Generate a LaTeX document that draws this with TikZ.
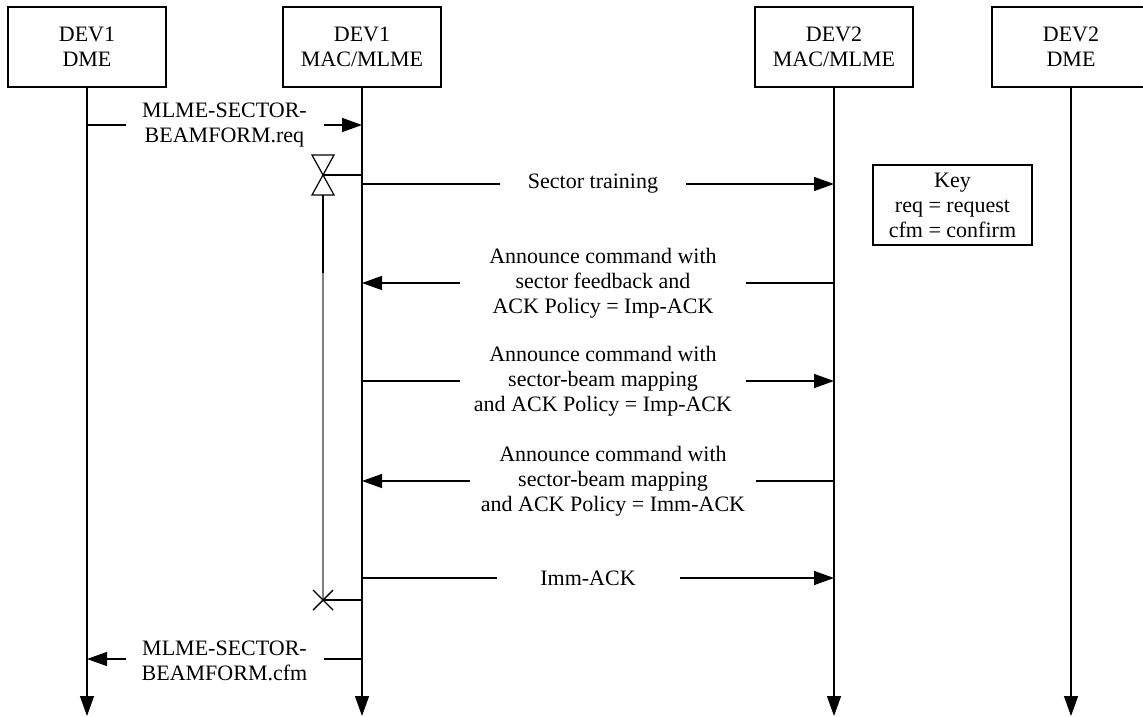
\documentclass[tikz,border=0pt]{standalone}
\usepackage{fontspec}
\setmainfont{Liberation Serif}
\usetikzlibrary{arrows.meta}
\begin{document}
\begin{tikzpicture}[x=1pt,y=-1pt,
  txt/.style={font=\fontsize{22}{25}\selectfont, align=center},
  entity/.style={txt, draw, line width=1.2pt, minimum width=158pt, minimum height=80pt, inner sep=0pt},
  life/.style={line width=1.4pt, -{Triangle[length=20pt,width=14pt]}},
  msg/.style={line width=1.4pt, -{Triangle[length=20pt,width=14pt]}},
  lbl/.style={txt, fill=white, inner xsep=0pt, inner ysep=2pt},
  timer/.style={line width=1.2pt}
]
\useasboundingbox (0,0) rectangle (1143,717);

% entities
\node[entity] (d1dme) at (87,47)   {DEV1\\DME};
\node[entity] (d1mac) at (362,47)  {DEV1\\MAC/MLME};
\node[entity] (d2mac) at (834,47)  {DEV2\\MAC/MLME};
\node[entity] (d2dme) at (1071,47) {DEV2\\DME};

% lifelines
\coordinate (e1) at (87,716);
\coordinate (e2) at (362,716);
\coordinate (e3) at (834,716);
\coordinate (e4) at (1071,716);
\draw[life] (d1dme) -- (e1);
\draw[life] (d1mac) -- (e2);
\draw[life] (d2mac) -- (e3);
\draw[life] (d2dme) -- (e4);

% key
\node[txt, draw, line width=1.2pt, minimum width=159pt, minimum height=80pt, inner sep=0pt] (key) at (952.5,205)
  {Key\\req = request\\cfm = confirm};

% messages
\coordinate (m1a) at (87,125);  \coordinate (m1b) at (362,125);
\draw[msg] (m1a) -- node[lbl, minimum width=198pt] {MLME-SECTOR-\\BEAMFORM.req} (m1b);

\coordinate (m3a) at (362,184); \coordinate (m3b) at (834,184);
\draw[msg] (m3a) -- node[lbl, minimum width=186pt, xshift=-5pt] {Sector training} (m3b);

\coordinate (m5a) at (834,283); \coordinate (m5b) at (362,283);
\draw[msg] (m5a) -- node[lbl, minimum width=286pt, xshift=5pt] {Announce command with\\sector feedback and\\ACK Policy = Imp-ACK} (m5b);

\coordinate (m6a) at (362,381); \coordinate (m6b) at (834,381);
\draw[msg] (m6a) -- node[lbl, minimum width=286pt, xshift=5pt] {Announce command with\\sector-beam mapping\\and ACK Policy = Imp-ACK} (m6b);

\coordinate (m7a) at (834,481); \coordinate (m7b) at (362,481);
\draw[msg] (m7a) -- node[lbl, minimum width=286pt, xshift=15pt] {Announce command with\\sector-beam mapping\\and ACK Policy = Imm-ACK} (m7b);

\coordinate (m8a) at (362,578); \coordinate (m8b) at (834,578);
\draw[msg] (m8a) -- node[lbl, minimum width=183pt, xshift=-10pt] {Imm-ACK} (m8b);

\coordinate (m9a) at (362,659); \coordinate (m9b) at (87,659);
\draw[msg] (m9a) -- node[lbl, minimum width=198pt, yshift=-2pt] {MLME-SECTOR-\\BEAMFORM.cfm} (m9b);

% response timer: start hourglass, running bar and expiry cross
\coordinate (tc) at (323,175);
\coordinate (tl) at (362,175);
\coordinate (tb) at (323,195);
\coordinate (tm) at (323,273);
\coordinate (tx) at (323,600);
\coordinate (txl) at (362,600);
\draw[timer] (312,155) -- (334,155) -- (tc) -- cycle;
\draw[timer] (tc) -- (312,195) -- (334,195) -- cycle;
\draw[line width=1.4pt] (tc) -- (tl);
\draw[line width=1.6pt] (tb) -- (tm);
\draw[line width=1.6pt, gray] (tm) -- (tx);
\draw[line width=1.4pt] (tx) -- (txl);
\draw[line width=1.4pt] (313,590) -- (333,610) (313,610) -- (333,590);

\end{tikzpicture}
\end{document}
